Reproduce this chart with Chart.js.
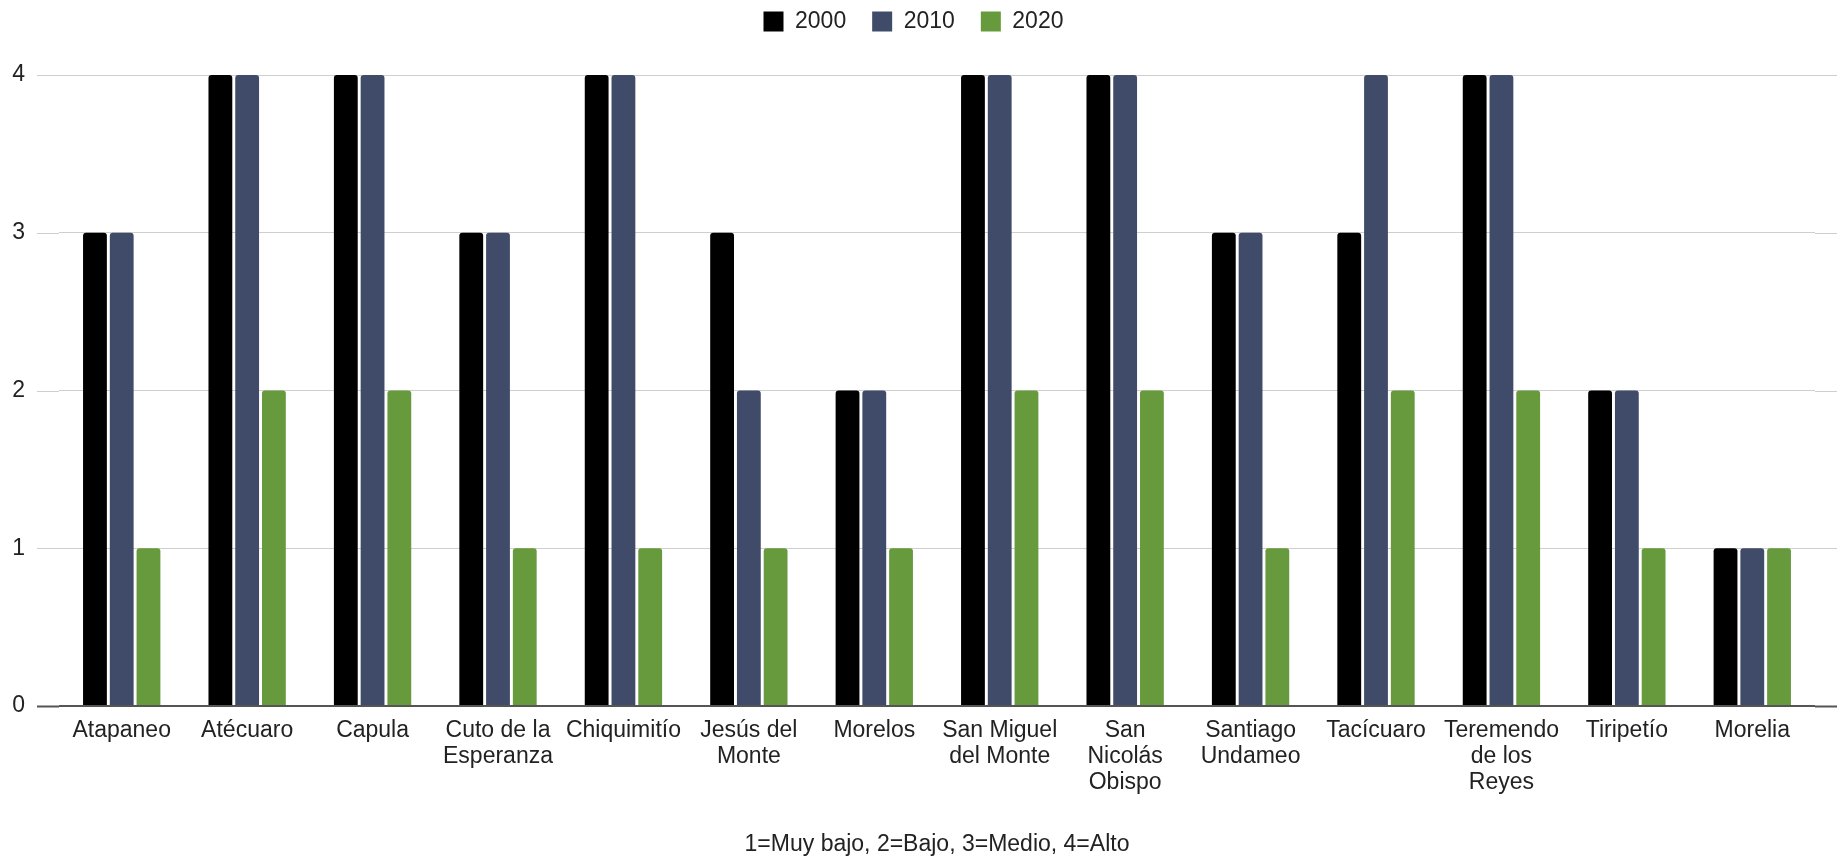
<!DOCTYPE html>
<html>
<head>
<meta charset="utf-8">
<script src="https://cdn.jsdelivr.net/npm/chart.js@4"></script>
<style>
  html, body { margin: 0; padding: 0; background: #fff; }
  #wrap { width: 1840px; height: 858px; }
</style>
</head>
<body>
<div id="wrap"><canvas id="chart" width="1840" height="858"></canvas></div>
<script>
// categories (multi-line labels as in the original)
const localidades = [
  'Atapaneo', 'Atécuaro', 'Capula', ['Cuto de la', 'Esperanza'], 'Chiquimitío',
  ['Jesús del', 'Monte'], 'Morelos', ['San Miguel', 'del Monte'], ['San', 'Nicolás', 'Obispo'],
  ['Santiago', 'Undameo'], 'Tacícuaro', ['Teremendo', 'de los', 'Reyes'], 'Tiripetío', 'Morelia'
];
// 1=Muy bajo, 2=Bajo, 3=Medio, 4=Alto
const nivel2000 = [3, 4, 4, 3, 4, 3, 2, 4, 4, 3, 3, 4, 2, 1];
const nivel2010 = [3, 4, 4, 3, 4, 2, 2, 4, 4, 3, 4, 4, 2, 1];
const nivel2020 = [1, 2, 2, 1, 1, 1, 1, 2, 2, 1, 2, 2, 1, 1];
const yTicks = [0, 1, 2, 3, 4];

const FONT = 'Arial, "Liberation Sans", sans-serif';

// legend sits higher than chart.js would put it, so push the plot down a bit
const legendGap = {
  id: 'legendGap',
  beforeInit(chart) {
    const fit = chart.legend.fit;
    chart.legend.fit = function () {
      fit.call(this);
      this.height += 32;
    };
  }
};

// horizontal grid lines run a bit past the category area on both sides
const gridExtend = {
  id: 'gridExtend',
  beforeDatasetsDraw(chart) {
    const { ctx, chartArea, scales } = chart;
    ctx.save();
    scales.y.ticks.forEach((t, i) => {
      const py = Math.round(scales.y.getPixelForTick(i)) + 0.5;
      ctx.strokeStyle = t.value === 0 ? '#555' : '#cfcfcf';
      ctx.lineWidth = t.value === 0 ? 2 : 1;
      ctx.beginPath();
      ctx.moveTo(37, py);
      ctx.lineTo(chartArea.left, py);
      ctx.moveTo(chartArea.right, py);
      ctx.lineTo(1837, py);
      ctx.stroke();
    });
    ctx.restore();
  }
};

const barStyle = {
  borderRadius: { topLeft: 3, topRight: 3 },
  borderSkipped: 'bottom',
  categoryPercentage: 0.64,
  barPercentage: 0.89
};

new Chart(document.getElementById('chart'), {
  type: 'bar',
  data: {
    labels: localidades,
    datasets: [
      { label: '2000', data: nivel2000, backgroundColor: '#000000', ...barStyle },
      { label: '2010', data: nivel2010, backgroundColor: '#404b69', ...barStyle },
      { label: '2020', data: nivel2020, backgroundColor: '#669a3d', ...barStyle }
    ]
  },
  options: {
    responsive: false,
    animation: false,
    layout: { padding: { top: -16, right: 25, left: 12, bottom: 0 } },
    plugins: {
      legend: {
        position: 'top',
        labels: {
          boxWidth: 20,
          boxHeight: 20,
          padding: 26,
          color: '#222',
          font: { family: FONT, size: 23 }
        }
      },
      tooltip: { enabled: false }
    },
    scales: {
      x: {
        afterFit(scale) { scale.paddingLeft = 0; scale.paddingRight = 0; },
        grid: { display: false, drawTicks: false },
        border: { display: false },
        ticks: {
          autoSkip: false,
          maxRotation: 0,
          padding: 12,
          color: '#222',
          font: { family: FONT, size: 23, lineHeight: 1.13 }
        },
        title: {
          display: true,
          text: '1=Muy bajo, 2=Bajo, 3=Medio, 4=Alto',
          color: '#222',
          font: { family: FONT, size: 23, lineHeight: 1.13 },
          padding: { top: 24, bottom: 0 }
        }
      },
      y: {
        min: 0,
        max: 4,
        afterBuildTicks(scale) { scale.ticks = yTicks.map(v => ({ value: v })); },
        afterFit(scale) { scale.width = 47; },
        grid: {
          color: ctx => ctx.tick && ctx.tick.value === 0 ? '#555' : '#cfcfcf',
          lineWidth: ctx => ctx.tick && ctx.tick.value === 0 ? 2 : 1,
          drawTicks: false
        },
        border: { display: false },
        ticks: {
          padding: 34,
          color: '#222',
          font: { family: FONT, size: 23 }
        }
      }
    }
  },
  plugins: [legendGap, gridExtend]
});
</script>
</body>
</html>
